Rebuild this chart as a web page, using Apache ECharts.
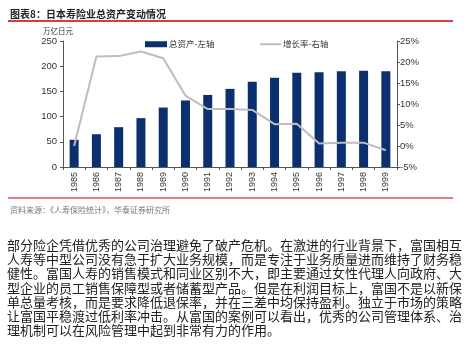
<!DOCTYPE html>
<html><head><meta charset="utf-8">
<script src="https://cdn.jsdelivr.net/npm/echarts@6/dist/echarts.min.js"></script>
<style>html,body{margin:0;padding:0;background:#fff;}#c{width:471px;height:359px;}</style>
</head><body><div id="c"></div>
<script>
const years = ['1985','1986','1987','1988','1989','1990','1991','1992','1993','1994','1995','1996','1997','1998','1999'];
const assets = [54, 65, 79, 97, 118, 132, 143, 155, 169, 177, 187, 188, 190, 191, 190];
const growth = [0, 21.3, 21.4, 22.5, 20.9, 12.0, 8.8, 8.8, 8.6, 5.2, 5.3, 0.6, 0.8, 0.8, -1.0];
const leftTicks = {min: 0, max: 250, interval: 50};
const rightTicks = {min: -5, max: 25, interval: 5};
const seriesNames = ['总资产-左轴', '增长率-右轴'];
const titleText = '图表8：日本寿险业总资产变动情况';
const unitText = '万亿日元';
const sourceText = '资料来源：《人寿保险统计》，华泰证券研究所';
const paragraph = [
 '部分险企凭借优秀的公司治理避免了破产危机。在激进的行业背景下，富国相互',
 '人寿等中型公司没有急于扩大业务规模，而是专注于业务质量进而维持了财务稳',
 '健性。富国人寿的销售模式和同业区别不大，即主要通过女性代理人向政府、大',
 '型企业的员工销售保障型或者储蓄型产品。但是在利润目标上，富国不是以新保',
 '单总量考核，而是要求降低退保率，并在三差中均保持盈利。独立于市场的策略',
 '让富国平稳渡过低利率冲击。从富国的案例可以看出，优秀的公司管理体系、治',
 '理机制可以在风险管理中起到非常有力的作用。'
];

const cjk = '"Noto Sans CJK SC", sans-serif';
const latin = '"Liberation Sans", Arial, sans-serif';
const graphics = [
 {type:'text', x:10, y:14, style:{text:titleText, fontSize:10, fontWeight:'bold', fontFamily:cjk, fill:'#222', verticalAlign:'middle'}},
 {type:'line', shape:{x1:8, y1:21, x2:453, y2:21}, style:{stroke:'#c00000', lineWidth:1.5}},
 {type:'text', x:43, y:31, style:{text:unitText, fontSize:7.5, fontFamily:cjk, fill:'#333', verticalAlign:'middle'}},
 {type:'line', shape:{x1:8, y1:198, x2:453, y2:198}, style:{stroke:'#c00000', lineWidth:1.2}},
 {type:'text', x:10, y:210, style:{text:sourceText, fontSize:8, fontFamily:cjk, fill:'#777', verticalAlign:'middle'}}
];
paragraph.forEach((t, i) => {
  graphics.push({type:'text', x:7, y:245 + i*14.2, style:{text:t, fontSize:13, fontFamily:cjk, fill:'#222', verticalAlign:'middle'}});
});

const legendText = {fontSize:8.5, fontFamily:cjk, color:'#333', padding:[0,0,0,-3]};
const chart = echarts.init(document.getElementById('c'), null, {renderer:'canvas'});
chart.setOption({
  animation:false,
  backgroundColor:'#fff',
  grid:{left:63, right:74, top:41, bottom:192, containLabel:false},
  legend:[
    {data:[{name:seriesNames[0], icon:'rect'}], left:140, top:35, itemWidth:22, itemHeight:6, textStyle:legendText},
    {data:[{name:seriesNames[1], icon:'rect', itemStyle:{color:'#bdbdbd'}}], left:255, top:35, itemWidth:21, itemHeight:2, textStyle:legendText}
  ],
  xAxis:{
    type:'category', data:years,
    axisLine:{lineStyle:{color:'#555', width:1}},
    axisTick:{show:true, alignWithLabel:false, length:3, lineStyle:{color:'#555'}},
    axisLabel:{rotate:90, fontSize:9, fontFamily:latin, color:'#333', margin:5, interval:0}
  },
  yAxis:[
    {type:'value', min:leftTicks.min, max:leftTicks.max, interval:leftTicks.interval,
     axisLine:{show:true, lineStyle:{color:'#555'}},
     axisTick:{show:true, length:3, lineStyle:{color:'#555'}},
     splitLine:{show:false},
     axisLabel:{fontSize:9.5, fontFamily:latin, color:'#333', margin:6}},
    {type:'value', min:rightTicks.min, max:rightTicks.max, interval:rightTicks.interval, position:'right',
     axisLine:{show:true, lineStyle:{color:'#555'}},
     axisTick:{show:true, length:3, lineStyle:{color:'#555'}},
     splitLine:{show:false},
     axisLabel:{fontSize:9.5, fontFamily:latin, color:'#333', margin:3, formatter:'{value}%'}}
  ],
  series:[
    {name:seriesNames[0], type:'bar', data:assets, barWidth:9, yAxisIndex:0,
     itemStyle:{color:'#0c2f6f'}},
    {name:seriesNames[1], type:'line', data:growth, yAxisIndex:1, symbol:'none', showSymbol:false,
     lineStyle:{color:'#bdbdbd', width:2}, itemStyle:{color:'#bdbdbd'}}
  ],
  graphic:graphics
});
</script></body></html>
